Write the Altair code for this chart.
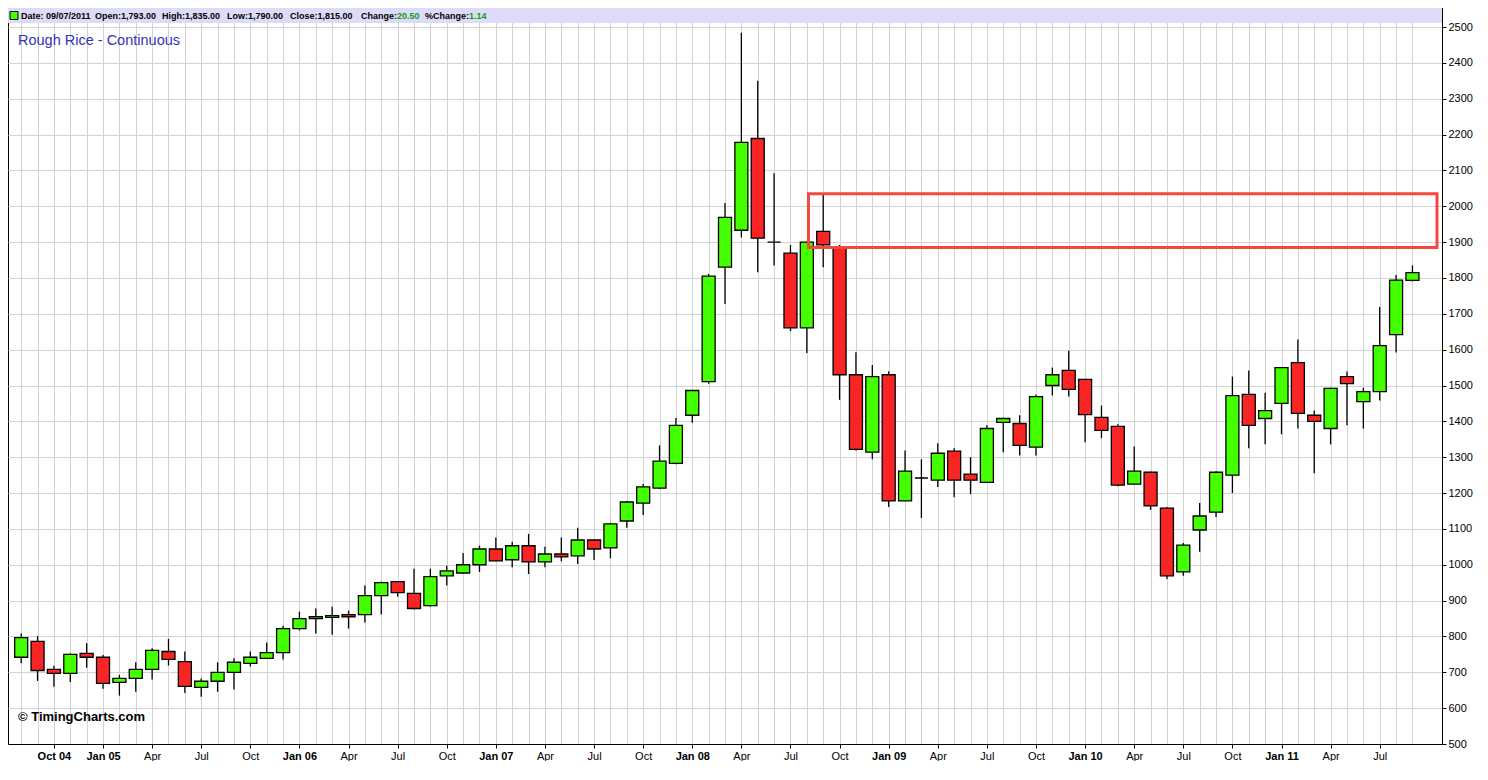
import json
import altair as alt
import pandas as pd

# ---------------- data ----------------
months = pd.date_range("2004-08-01", periods=86, freq="MS").strftime("%b %y").tolist()

opens = [742, 786, 708, 697, 753, 742, 672, 683, 708, 758,
         730, 658, 675, 700, 725, 739, 755, 822, 850, 853,
         861, 861, 914, 953, 920, 886, 969, 977, 1000, 1044,
         1014, 1053, 1008, 1030, 1025, 1069, 1047, 1122, 1172, 1214,
         1283, 1417, 1511, 1830, 1933, 2189, 1900, 1869, 1661, 1930,
         1883, 1530, 1314, 1530, 1178, 1242, 1236, 1317, 1253, 1230,
         1397, 1394, 1328, 1500, 1542, 1517, 1411, 1386, 1225, 1258,
         1158, 980, 1097, 1147, 1250, 1475, 1408, 1450, 1564, 1417,
         1380, 1525, 1455, 1483, 1642, 1793]
highs = [808, 801, 718, 753, 781, 748, 693, 728, 767, 793,
         758, 683, 728, 739, 758, 783, 830, 869, 878, 883,
         872, 942, 953, 955, 989, 989, 997, 1033, 1053, 1076,
         1064, 1086, 1050, 1076, 1103, 1070, 1117, 1178, 1225, 1333,
         1409, 1487, 1811, 2009, 2484, 2350, 2092, 1892, 1902, 2032,
         1892, 1593, 1557, 1540, 1319, 1294, 1339, 1325, 1300, 1389,
         1410, 1417, 1475, 1550, 1597, 1519, 1444, 1392, 1330, 1260,
         1161, 1061, 1172, 1261, 1525, 1542, 1480, 1552, 1628, 1430,
         1494, 1539, 1494, 1719, 1808, 1835]
lows = [725, 676, 660, 673, 713, 654, 635, 646, 680, 719,
        642, 632, 646, 652, 716, 737, 736, 817, 808, 805,
        822, 839, 861, 911, 875, 883, 942, 975, 980, 1010,
        993, 974, 993, 1010, 1002, 1013, 1018, 1103, 1139, 1211,
        1280, 1396, 1505, 1727, 1913, 1816, 1835, 1652, 1591, 1830,
        1460, 1319, 1294, 1161, 1177, 1130, 1217, 1188, 1197, 1229,
        1314, 1305, 1305, 1472, 1469, 1342, 1353, 1219, 1224, 1153,
        960, 969, 1036, 1133, 1200, 1325, 1336, 1364, 1380, 1255,
        1336, 1389, 1380, 1458, 1592, 1790]
closes = [797, 705, 697, 750, 742, 669, 683, 708, 761, 736,
          661, 675, 700, 728, 742, 755, 822, 850, 855, 858,
          855, 914, 950, 922, 878, 967, 983, 1000, 1044, 1011,
          1053, 1008, 1030, 1022, 1069, 1044, 1114, 1175, 1217, 1289,
          1389, 1486, 1805, 1969, 2178, 1911, 1900, 1661, 1900, 1892,
          1530, 1322, 1525, 1178, 1261, 1242, 1311, 1236, 1236, 1380,
          1408, 1333, 1469, 1530, 1489, 1419, 1375, 1222, 1261, 1164,
          969, 1055, 1136, 1258, 1472, 1389, 1430, 1550, 1422, 1400,
          1492, 1505, 1483, 1611, 1794, 1815]

x_tick_labels = ["Oct 04", "Jan 05", "Apr", "Jul", "Oct", "Jan 06", "Apr", "Jul", "Oct",
                 "Jan 07", "Apr", "Jul", "Oct", "Jan 08", "Apr", "Jul", "Oct",
                 "Jan 09", "Apr", "Jul", "Oct", "Jan 10", "Apr", "Jul", "Oct",
                 "Jan 11", "Apr", "Jul"]
y_ticks = list(range(500, 2600, 100))

# resistance zone (red box)
zone_start = 48.1
zone_end = 86.5
zone_low = 1885
zone_high = 2035

title_text = "Rough Rice - Continuous"
copyright_text = "\u00a9 TimingCharts.com"
header_fields = ["Date: 09/07/2011", "Open:1,793.00", "High:1,835.00", "Low:1,790.00",
                 "Close:1,815.00", "Change:", "20.50", "%Change:", "1.14"]
header_green = [False, False, False, False, False, False, True, False, True]

# ---------------- chart ----------------
df = pd.DataFrame({"i": range(len(opens)), "month": months, "open": opens,
                   "high": highs, "low": lows, "close": closes})
df["dir"] = ["up" if c >= o else "down" for o, c in zip(opens, closes)]

W, H = 1434, 736
FONT = "Liberation Sans"
GRID = "#d3d3d3"

x_scale = alt.Scale(domain=[-0.5, 86.5], nice=False, zero=False)
y_scale = alt.Scale(domain=[500, 2553], nice=False, zero=False)

label_expr = ("datum.value % 3 == 2 ? " + json.dumps(x_tick_labels) +
              "[(datum.value - 2) / 3] : ''")

x_axis = alt.Axis(values=list(range(0, 86)), labelExpr=label_expr, grid=True,
                  gridColor=GRID, gridWidth=1, domainColor="black", domainWidth=1,
                  tickColor="black", tickSize=4,
                  tickOpacity={"condition": {"test": "datum.value % 3 == 2", "value": 1}, "value": 0},
                  labelFontWeight={"condition": {"test": "datum.value % 12 == 5 || datum.value == 2",
                                                 "value": "bold"}, "value": "normal"},
                  labelFont=FONT, labelFontSize=11, labelColor="black", labelPadding=2,
                  labelOverlap=False, labelFlush=False, title=None)
y_axis = alt.Axis(orient="right", values=y_ticks, format="d", grid=True, gridColor=GRID,
                  gridWidth=1, domainColor="black", domainWidth=1, tickColor="black",
                  tickSize=4, labelFont=FONT, labelFontSize=11, labelColor="black",
                  labelPadding=2, labelOverlap=False, title=None)

base = alt.Chart(df)

wicks = base.mark_rule(color="black", strokeWidth=1.3).encode(
    x=alt.X("i:Q", scale=x_scale, axis=x_axis),
    y=alt.Y("low:Q", scale=y_scale, axis=y_axis),
    y2="high:Q",
)

bodies = base.mark_bar(size=13, stroke="black", strokeWidth=1.3).encode(
    x=alt.X("i:Q", scale=x_scale, axis=x_axis),
    y=alt.Y("open:Q", scale=y_scale, axis=y_axis),
    y2="close:Q",
    color=alt.Color("dir:N", scale=alt.Scale(domain=["up", "down"],
                                             range=["#44ff00", "#f92525"]), legend=None),
    tooltip=["month:N", "open:Q", "high:Q", "low:Q", "close:Q"],
)

zone = alt.Chart(alt.Data(values=[{"x0": zone_start, "x1": zone_end,
                                   "lo": zone_low, "hi": zone_high}])).mark_rect(
    fillOpacity=0, stroke="#f4483c", strokeWidth=3
).encode(
    x=alt.X("x0:Q", scale=x_scale, axis=x_axis),
    x2="x1:Q",
    y=alt.Y("hi:Q", scale=y_scale, axis=y_axis),
    y2="lo:Q",
)

one = alt.Data(values=[{"k": 0}])

band = alt.Chart(one).mark_rect(fill="#dcdcf8").encode(
    x=alt.value(0), x2=alt.value(W), y=alt.value(0), y2=alt.value(15)
)
square = alt.Chart(one).mark_rect(fill="#44ff00", stroke="black", strokeWidth=1).encode(
    x=alt.value(2), x2=alt.value(10), y=alt.value(3.5), y2=alt.value(11.5)
)

# header text pieces: (x position, alignment)
header_pos = [(13, "left"), (87, "left"), (154, "left"), (219, "left"), (282, "left"),
              (389, "right"), (389, "left"), (461, "right"), (461, "left")]
header_layers = []
for txt, (gx, al), green in zip(header_fields, header_pos, header_green):
    header_layers.append(
        alt.Chart(alt.Data(values=[{"t": txt}])).mark_text(
            align=al, baseline="middle", font=FONT, fontSize=9, fontWeight="bold",
            color="#169b16" if green else "black"
        ).encode(x=alt.value(gx), y=alt.value(8), text="t:N")
    )

title = alt.Chart(alt.Data(values=[{"t": title_text}])).mark_text(
    align="left", baseline="middle", font=FONT, fontSize=14.5, color="#3434b4"
).encode(x=alt.value(10), y=alt.value(33), text="t:N")

copyright = alt.Chart(alt.Data(values=[{"t": copyright_text}])).mark_text(
    align="left", baseline="middle", font=FONT, fontSize=13, fontWeight="bold", color="black"
).encode(x=alt.value(10), y=alt.value(709), text="t:N")

chart = alt.layer(
    wicks, bodies, zone, band, square, *header_layers, title, copyright
).properties(
    width=W, height=H, padding=0, background="white"
).configure_view(
    stroke="black", strokeWidth=1
)

chart.save("out.html", embed_options={"renderer": "svg", "actions": False})
